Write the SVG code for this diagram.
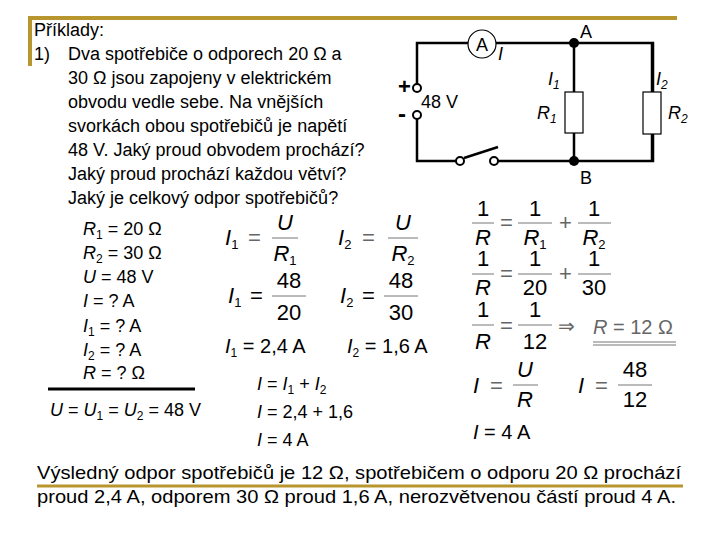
<svg xmlns="http://www.w3.org/2000/svg" width="720" height="540" viewBox="0 0 720 540">
<style>
text{font-family:"Liberation Sans",Arial,sans-serif;fill:#000}
.t{font-size:18px}
.f{font-size:22px}
.i{font-style:italic}
.w{stroke:#000;stroke-width:2.5;fill:none}
.fl{stroke:#777;stroke-width:1}
.eq{fill:#666}
</style>
<rect width="720" height="540" fill="#fff"/>
<g id="frame"><path d="M30 66V18H677" stroke="#B8962E" stroke-width="4" fill="none"/><line x1="37" y1="486" x2="683" y2="486" stroke="#B8962E" stroke-width="3"/></g>
<g id="task" class="t">
<text x="34" y="36">Příklady:</text>
<text x="34" y="60">1)</text>
<text x="68" y="60">Dva spotřebiče o odporech 20 Ω a</text>
<text x="68" y="84">30 Ω jsou zapojeny v elektrickém</text>
<text x="68" y="108">obvodu vedle sebe. Na vnějších</text>
<text x="68" y="132">svorkách obou spotřebičů je napětí</text>
<text x="68" y="156">48 V. Jaký proud obvodem prochází?</text>
<text x="68" y="180">Jaký proud prochází každou větví?</text>
<text x="68" y="204">Jaký je celkový odpor spotřebičů?</text>
</g>
<g id="given" class="t">
<text x="83" y="235"><tspan class="i">R</tspan><tspan font-size="12" dy="4">1</tspan><tspan dy="-4"> = 20 Ω</tspan></text>
<text x="83" y="259"><tspan class="i">R</tspan><tspan font-size="12" dy="4">2</tspan><tspan dy="-4"> = 30 Ω</tspan></text>
<text x="83" y="283"><tspan class="i">U</tspan> = 48 V</text>
<text x="83" y="307"><tspan class="i">I</tspan> = ? A</text>
<text x="83" y="332"><tspan class="i">I</tspan><tspan font-size="12" dy="4">1</tspan><tspan dy="-4"> = ? A</tspan></text>
<text x="83" y="356"><tspan class="i">I</tspan><tspan font-size="12" dy="4">2</tspan><tspan dy="-4"> = ? A</tspan></text>
<text x="83" y="379"><tspan class="i">R</tspan> = ? Ω</text>
<line x1="48" y1="389" x2="195" y2="389" stroke="#000" stroke-width="3"/>
<text x="50" y="416"><tspan class="i">U</tspan> = <tspan class="i">U</tspan><tspan font-size="12" dy="4">1</tspan><tspan dy="-4"> = </tspan><tspan class="i">U</tspan><tspan font-size="12" dy="4">2</tspan><tspan dy="-4"> = 48 V</tspan></text>
<text x="257" y="390"><tspan class="i">I</tspan> = <tspan class="i">I</tspan><tspan font-size="12" dy="4">1</tspan><tspan dy="-4"> + </tspan><tspan class="i">I</tspan><tspan font-size="12" dy="4">2</tspan></text>
<text x="257" y="418"><tspan class="i">I</tspan> = 2,4 + 1,6</text>
<text x="257" y="446"><tspan class="i">I</tspan> = 4 A</text>
</g>
<g id="eqLeft" class="f">
<text x="225" y="245" class="i">I<tspan font-size="13" font-style="normal" dy="4">1</tspan></text>
<text x="248" y="245" class="eq">=</text>
<line class="fl" x1="272" y1="238" x2="298" y2="238"/>
<text x="285" y="230" text-anchor="middle" class="i">U</text>
<text x="285" y="261" text-anchor="middle" class="i">R<tspan font-size="13" font-style="normal" dy="4">1</tspan></text>
<text x="338" y="245" class="i">I<tspan font-size="13" font-style="normal" dy="4">2</tspan></text>
<text x="362" y="245" class="eq">=</text>
<line class="fl" x1="388" y1="238" x2="418" y2="238"/>
<text x="403" y="230" text-anchor="middle" class="i">U</text>
<text x="403" y="261" text-anchor="middle" class="i">R<tspan font-size="13" font-style="normal" dy="4">2</tspan></text>
<text x="228" y="303" class="i">I<tspan font-size="13" font-style="normal" dy="4">1</tspan></text>
<text x="250" y="303">=</text>
<line class="fl" x1="272" y1="296" x2="306" y2="296"/>
<text x="289" y="288" text-anchor="middle">48</text>
<text x="289" y="320" text-anchor="middle">20</text>
<text x="340" y="303" class="i">I<tspan font-size="13" font-style="normal" dy="4">2</tspan></text>
<text x="362" y="303">=</text>
<line class="fl" x1="384" y1="296" x2="418" y2="296"/>
<text x="401" y="288" text-anchor="middle">48</text>
<text x="401" y="320" text-anchor="middle">30</text>
<text x="225" y="353" font-size="20"><tspan class="i">I</tspan><tspan font-size="12" dy="4">1</tspan><tspan dy="-4"> = 2,4 A</tspan></text>
<text x="347" y="353" font-size="20"><tspan class="i">I</tspan><tspan font-size="12" dy="4">2</tspan><tspan dy="-4"> = 1,6 A</tspan></text>
</g>
<g id="eqRight" class="f">
<line class="fl" x1="472" y1="223" x2="494" y2="223"/>
<text x="483" y="216" text-anchor="middle">1</text>
<text x="483" y="245" text-anchor="middle" class="i">R</text>
<text x="500" y="230" class="eq">=</text>
<line class="fl" x1="518" y1="223" x2="552" y2="223"/>
<text x="535" y="216" text-anchor="middle">1</text>
<text x="535" y="245" text-anchor="middle" class="i">R<tspan font-size="13" font-style="normal" dy="4">1</tspan></text>
<text x="559" y="230" class="eq">+</text>
<line class="fl" x1="578" y1="223" x2="611" y2="223"/>
<text x="594" y="216" text-anchor="middle">1</text>
<text x="594" y="245" text-anchor="middle" class="i">R<tspan font-size="13" font-style="normal" dy="4">2</tspan></text>
<line class="fl" x1="472" y1="274" x2="494" y2="274"/>
<text x="483" y="266" text-anchor="middle">1</text>
<text x="483" y="295" text-anchor="middle" class="i">R</text>
<text x="500" y="281" class="eq">=</text>
<line class="fl" x1="518" y1="274" x2="552" y2="274"/>
<text x="535" y="266" text-anchor="middle">1</text>
<text x="535" y="295" text-anchor="middle">20</text>
<text x="559" y="281" class="eq">+</text>
<line class="fl" x1="578" y1="274" x2="611" y2="274"/>
<text x="594" y="266" text-anchor="middle">1</text>
<text x="594" y="295" text-anchor="middle">30</text>
<line class="fl" x1="472" y1="325" x2="494" y2="325"/>
<text x="483" y="317" text-anchor="middle">1</text>
<text x="483" y="349" text-anchor="middle" class="i">R</text>
<text x="500" y="333" class="eq">=</text>
<line class="fl" x1="518" y1="325" x2="552" y2="325"/>
<text x="535" y="317" text-anchor="middle">1</text>
<text x="535" y="349" text-anchor="middle">12</text>
<text x="558" y="333" font-size="20" class="eq">⇒</text>
<text x="593" y="334" font-size="20" class="eq"><tspan class="i">R</tspan> = 12 Ω</text>
<line class="fl" x1="593" y1="342" x2="676" y2="342"/>
<line class="fl" x1="593" y1="345" x2="676" y2="345"/>
<text x="473" y="393" class="i">I</text>
<text x="490" y="393" class="eq">=</text>
<line class="fl" x1="513" y1="385" x2="538" y2="385"/>
<text x="525" y="377" text-anchor="middle" class="i">U</text>
<text x="525" y="407" text-anchor="middle" class="i">R</text>
<text x="578" y="393" class="i">I</text>
<text x="595" y="393" class="eq">=</text>
<line class="fl" x1="618" y1="385" x2="652" y2="385"/>
<text x="635" y="377" text-anchor="middle">48</text>
<text x="635" y="407" text-anchor="middle">12</text>
<text x="473" y="439" font-size="20"><tspan class="i">I</tspan> = 4 A</text>
</g>
<g id="connectors">
<path class="w" d="M417 84V43H468M496 43H653V161H498M456 161H417V119"/>
<path class="w" d="M574 43V92M574 133V161M652 43V92M652 134V161"/>
<line class="w" x1="464" y1="158" x2="498" y2="147" stroke-width="1.5"/>
</g>
<g id="ammeter"><circle cx="482" cy="44" r="14" fill="#fff" stroke="#000" stroke-width="1.2"/><text x="482" y="51" text-anchor="middle" class="t">A</text><text x="498" y="60" class="t i">I</text></g>
<g id="source">
<circle cx="417" cy="88" r="4" fill="#fff" stroke="#000" stroke-width="2"/>
<circle cx="417" cy="115" r="4" fill="#fff" stroke="#000" stroke-width="2"/>
<text x="398" y="94" font-size="22" font-weight="bold">+</text>
<text x="398" y="122" font-size="24" font-weight="bold">-</text>
<text x="421" y="108" class="t">48 V</text>
</g>
<g id="switch"><circle cx="460" cy="161" r="4" fill="#fff" stroke="#000" stroke-width="2"/><circle cx="494" cy="161" r="4" fill="#fff" stroke="#000" stroke-width="2"/></g>
<g id="nodeA"><circle cx="574" cy="43" r="5"/><text x="580" y="38" class="t">A</text></g>
<g id="nodeB"><circle cx="574" cy="161" r="5"/><text x="580" y="184" class="t">B</text></g>
<g id="R1"><rect x="565" y="92" width="18" height="41" fill="#fff" stroke="#000" stroke-width="1.2"/><text x="548" y="85" class="t i">I<tspan font-size="12" dy="4">1</tspan></text><text x="537" y="119" class="t i">R<tspan font-size="12" dy="4">1</tspan></text></g>
<g id="R2"><rect x="643" y="92" width="18" height="42" fill="#fff" stroke="#000" stroke-width="1.2"/><text x="656" y="85" class="t i">I<tspan font-size="12" dy="4">2</tspan></text><text x="668" y="119" class="t i">R<tspan font-size="12" dy="4">2</tspan></text></g>
<g id="result" style="font-size:19px">
<text x="37" y="479" textLength="644" lengthAdjust="spacingAndGlyphs">Výsledný odpor spotřebičů je 12 Ω, spotřebičem o odporu 20 Ω prochází</text>
<text x="37" y="503" textLength="639" lengthAdjust="spacingAndGlyphs">proud 2,4 A, odporem 30 Ω proud 1,6 A, nerozvětvenou částí proud 4 A.</text>
</g>
</svg>
